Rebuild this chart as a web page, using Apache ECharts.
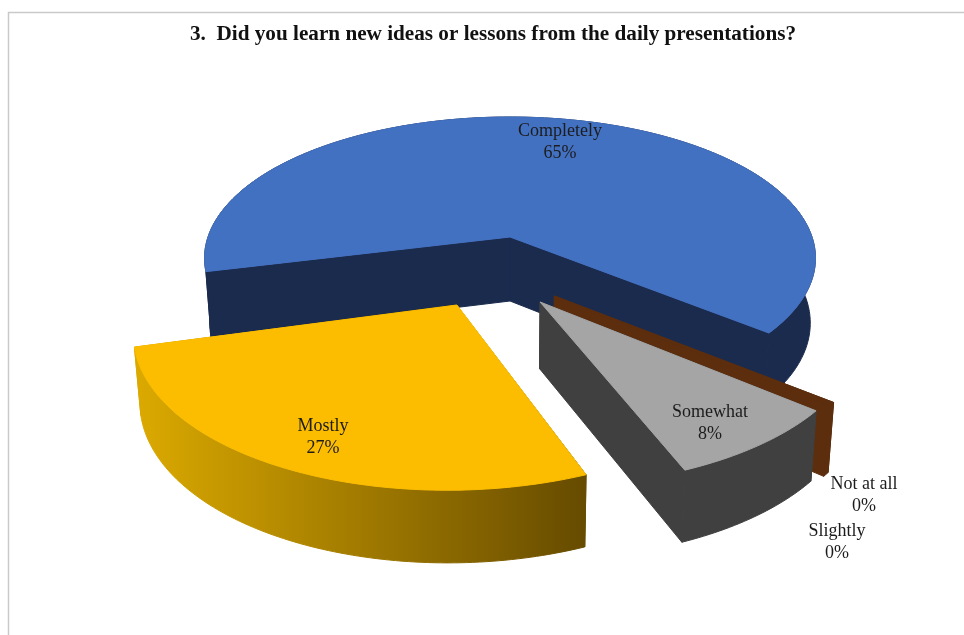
<!DOCTYPE html>
<html>
<head>
<meta charset="utf-8">
<title>Daily presentations survey</title>
<style>
  html, body { margin: 0; padding: 0; background: #ffffff; }
  #chart { width: 964px; height: 635px; }
</style>
<script src="https://cdn.jsdelivr.net/npm/echarts@6/dist/echarts.min.js"></script>
</head>
<body>
<div id="chart"></div>
<script>
// Survey responses, listed clockwise from the start of the first slice.
const categories = ['Completely', 'Not at all', 'Slightly', 'Somewhat', 'Mostly'];
const percents = [65, 0.4, 0, 8, 27];
const chartTitle = '3.  Did you learn new ideas or lessons from the daily presentations?';

// Slice appearance.
const topColors = ['#4371c2', '#5c2e0e', '#7f7f7f', '#a5a5a5', '#fcbd00'];
const wallColors = ['#1a2b4e', '#5c2e0e', '#404040', '#404040', null];
const goldWall = { from: '#dcaa00', to: '#664b00' };

// Explosion of each slice on the pie's plane, in pie radii.
const explode = [[0, 0], [0.138, 0.402], [0, 0], [0.093, 0.44], [-0.164, 0.459]];
// Perspective correction per slice: rotation in degrees and radius factor.
const sliceTurn = [0, -0.5, 0, -1.3, -1.0];
const sliceRadius = [1, 0.985, 1, 0.98, 0.98];
// Label anchors on the page.
const labelAt = [[560, 142], [864, 495], [837, 542], [710, 423], [323, 437]];

// Perspective pie projection.
const view = { cx: 510, cy: 237, rx: 302, ry: 138, tilt: 0.15, startDeg: 166, baseScale: 0.983 };

function project(X, Y) {
  const w = 1 - view.tilt * Y;
  return { x: view.cx + view.rx * X / w, y: view.cy + view.ry * Y / w, w };
}
function topPoint(X, Y) {
  const p = project(X, Y);
  return [p.x, p.y];
}
function basePoint(X, Y) {
  const p = project(X, Y);
  const depth = 64 + 40 * (1 - p.w);
  return [view.cx + (p.x - view.cx) * view.baseScale, p.y + depth];
}
function arc(from, to) {
  const pts = [];
  const n = Math.max(2, Math.ceil(to - from));
  for (let i = 0; i <= n; i++) {
    const a = (from + (to - from) * i / n) * Math.PI / 180;
    pts.push([Math.cos(a), Math.sin(a)]);
  }
  return pts;
}

const total = percents.reduce((a, b) => a + b, 0);
const sliceStart = [];
percents.reduce((acc, v, i) => { sliceStart[i] = acc; return acc + v / total * 360; }, view.startDeg);

function polygon(points, fill) {
  return {
    type: 'polygon',
    silent: true,
    shape: { points },
    style: { fill, stroke: fill, lineWidth: 1 }
  };
}

function renderSlice(params, api) {
  const i = params.dataIndex;
  const value = api.value(0);
  const children = [];
  if (value > 0) {
    const [ox, oy] = explode[i];
    const from = sliceStart[i] + sliceTurn[i];
    const to = from + value / total * 360;
    const r = sliceRadius[i];
    const rim = arc(from, to).map(([c, s]) => [ox + r * c, oy + r * s]);
    const apex = [ox, oy];
    const first = rim[0];
    const last = rim[rim.length - 1];
    const wallFill = wallColors[i] || {
      type: 'linear', x: 0, y: 0, x2: 1, y2: 0,
      colorStops: [{ offset: 0, color: goldWall.from }, { offset: 1, color: goldWall.to }]
    };
    const wall = (a, b) => polygon([topPoint(...a), topPoint(...b), basePoint(...b), basePoint(...a)], wallFill);
    children.push(wall(apex, first));
    children.push(wall(apex, last));
    children.push(polygon(
      rim.map(p => topPoint(...p)).concat(rim.slice().reverse().map(p => basePoint(...p))),
      wallFill
    ));
    children.push(polygon([topPoint(...apex)].concat(rim.map(p => topPoint(...p))), topColors[i]));
  }
  children.push({
    type: 'text',
    silent: true,
    z2: 20,
    style: {
      x: labelAt[i][0],
      y: labelAt[i][1],
      text: categories[i] + '\n' + Math.round(value) + '%',
      align: 'center',
      verticalAlign: 'middle',
      fill: '#1c1c1c',
      lineHeight: 22,
      font: '18px "Liberation Serif"'
    }
  });
  return { type: 'group', children };
}

const chart = echarts.init(document.getElementById('chart'), null, { renderer: 'canvas' });
chart.setOption({
  animation: false,
  backgroundColor: '#ffffff',
  title: {
    text: chartTitle,
    left: 488,
    top: 19,
    textAlign: 'center',
    textStyle: {
      fontFamily: '"Liberation Serif"',
      fontWeight: 'bold',
      fontSize: 21.2,
      color: '#111111'
    }
  },
  graphic: [
    { type: 'line', silent: true, shape: { x1: 8, y1: 12.5, x2: 964, y2: 12.5 }, style: { stroke: '#c9c9c9', lineWidth: 1.5 } },
    { type: 'line', silent: true, shape: { x1: 8.5, y1: 12, x2: 8.5, y2: 635 }, style: { stroke: '#c9c9c9', lineWidth: 1.5 } }
  ],
  series: [{
    type: 'custom',
    coordinateSystem: 'none',
    renderItem: renderSlice,
    data: percents.map((v, i) => ({ name: categories[i], value: [v] }))
  }]
});
</script>
</body>
</html>
